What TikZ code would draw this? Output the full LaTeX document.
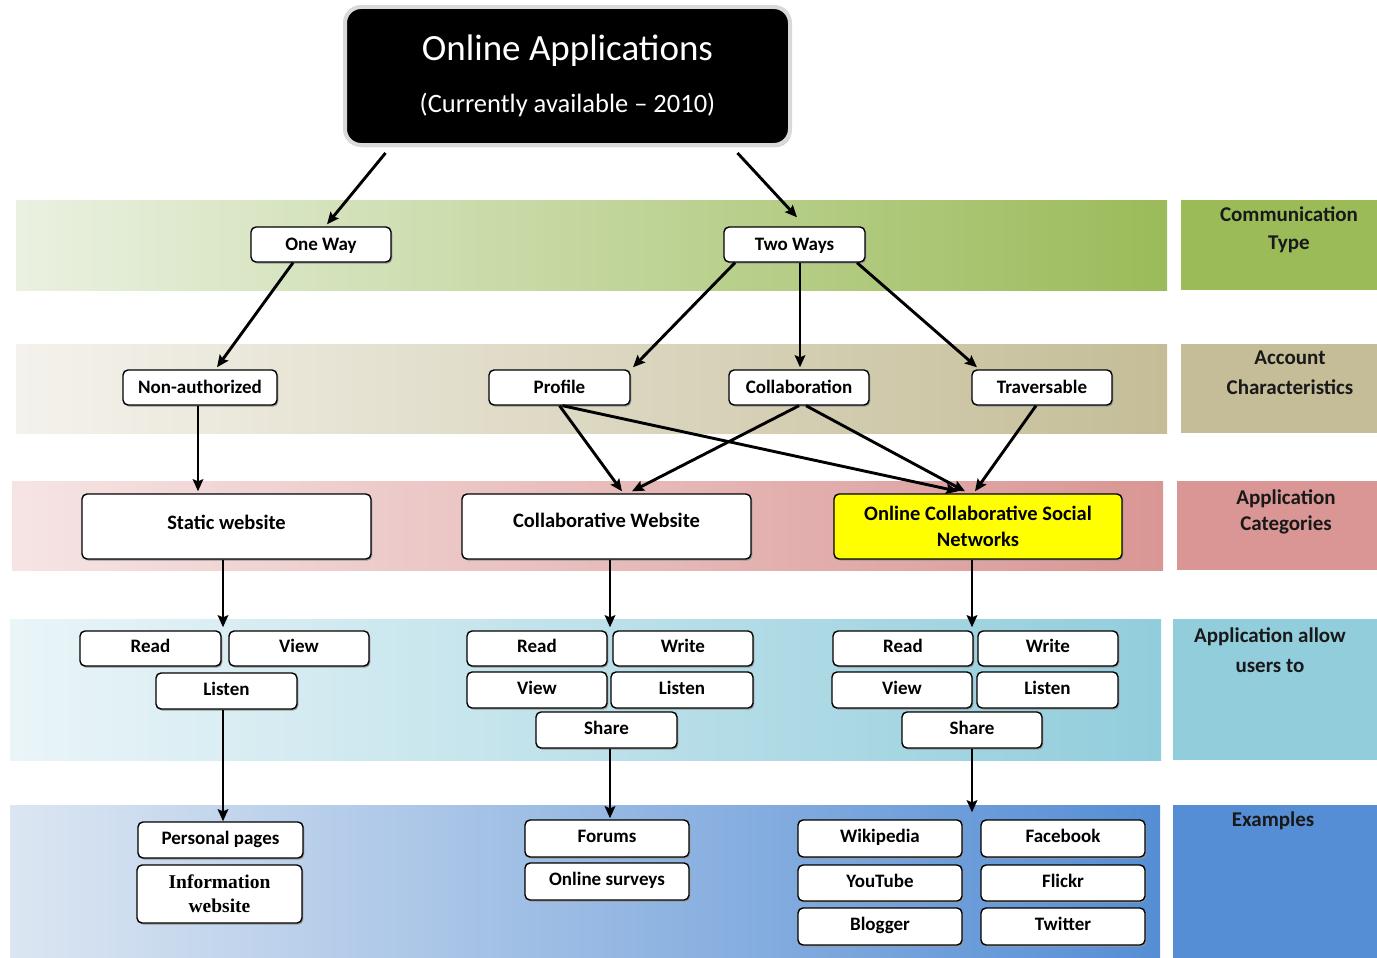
\documentclass[tikz,border=0pt]{standalone}
\usepackage{fontspec}
\setmainfont{Carlito}
\newfontfamily\tnr{Liberation Serif}
\usetikzlibrary{arrows.meta,shadows}
\definecolor{gL}{HTML}{EAF1E1}\definecolor{gR}{HTML}{9BBB59}
\definecolor{tL}{HTML}{F4F2EC}\definecolor{tR}{HTML}{C4BD97}
\definecolor{pL}{HTML}{F6E4E4}\definecolor{pR}{HTML}{D99694}
\definecolor{aL}{HTML}{EAF5F8}\definecolor{aR}{HTML}{92CDDC}
\definecolor{bL}{HTML}{DCE6F2}\definecolor{bR}{HTML}{558ED5}
\definecolor{ocsnY}{HTML}{FFFF00}
\begin{document}
\begin{tikzpicture}[x=1pt,y=-1pt,
  box/.style={draw=black, line width=1.4pt, fill=white, rounded corners=5pt, inner sep=0pt,
    font=\fontsize{19}{26}\selectfont\bfseries, align=center,
    general shadow={shadow xshift=1.3pt, shadow yshift=-1.6pt, fill=black!40}},
  sbox/.style={box, minimum width=140pt, minimum height=35pt, text height=13.5pt, text depth=5.5pt},
  tbox/.style={sbox, text depth=2pt},
  ebox/.style={box, minimum width=164pt, minimum height=37pt, text height=13.5pt, text depth=5.5pt},
  cbox/.style={box, minimum width=289pt, minimum height=65pt, font=\fontsize{20.5}{26}\selectfont\bfseries, text height=15pt},
  conn/.style={line width=2.9pt, -{Stealth[length=12pt,width=10.5pt,inset=2pt]}},
  lbl/.style={font=\fontsize{21}{28}\selectfont\bfseries, align=center, anchor=north, inner sep=0pt, text=black!90},
  titlebox/.style={fill=black, draw=black!15, line width=4pt, rounded corners=16pt, text=white,
    minimum width=445pt, minimum height=138pt, align=center, font=\fontsize{26.5}{28}\selectfont,
    general shadow={shadow xshift=1.5pt, shadow yshift=-2pt, fill=black!25}}
]
\useasboundingbox (0,0) rectangle (1377,958);
\fill[white] (0,0) rectangle (1377,958);
% bands
\shade[left color=gL, right color=gR] (16,200) rectangle (1167,290);
\fill[gR] (1181,200) rectangle (1377,290);
\shade[left color=tL, right color=tR] (16,344) rectangle (1167,433);
\fill[tR] (1181,344) rectangle (1377,433);
\shade[left color=pL, right color=pR] (12,481) rectangle (1163,570);
\fill[pR] (1177,481) rectangle (1377,570);
\shade[left color=aL, right color=aR] (10,619) rectangle (1161,760);
\fill[aR] (1173,619) rectangle (1377,760);
\shade[left color=bL, right color=bR] (10,805) rectangle (1160,958);
\fill[bR] (1173,805) rectangle (1377,958);
% right labels
\node[lbl] (lcomm) at (1289,207) {Communication\\Type};
\node[lbl, font=\fontsize{21}{30}\selectfont\bfseries] (lacct) at (1290,351) {Account\\Characteristics};
\node[lbl, font=\fontsize{21}{26}\selectfont\bfseries] (lcat) at (1286,490) {Application\\Categories};
\node[lbl, font=\fontsize{21}{30}\selectfont\bfseries] (lallow) at (1270,628) {Application allow\\users to};
\node[lbl] (lex) at (1273,812) {Examples};
% title
\node[titlebox] (title) at (567.5,76) {{\fontsize{37}{37}\selectfont Online Applications}\\[24pt](Currently available – 2010)};
% level 1
\node[tbox] (oneway) at (321,244.5) {One Way};
\node[tbox, minimum width=141pt] (twoways) at (794.5,244.5) {Two Ways};
% level 2
\node[tbox, minimum width=154pt] (nonauth) at (200,387.5) {Non-authorized};
\node[tbox, minimum width=141pt] (profile) at (559.5,387.5) {Profile};
\node[tbox] (collab) at (799,387.5) {Collaboration};
\node[tbox] (trav) at (1042,387.5) {Traversable};
% level 3
\node[cbox, text depth=9pt] (static) at (226.5,526.5) {Static website};
\node[cbox, text depth=13pt] (cweb) at (606.5,526.5) {Collaborative Website};
\node[box, minimum width=288pt, minimum height=65pt, fill=ocsnY, font=\fontsize{20.5}{26}\selectfont\bfseries] (ocsn) at (978,526.5) {Online Collaborative Social\\Networks};
% level 4
\node[sbox, minimum width=141pt] (sread) at (150.5,648.5) {Read};
\node[sbox] (sview) at (299,648.5) {View};
\node[sbox, minimum width=141pt, minimum height=36pt] (slisten) at (226.5,691) {Listen};
\node[sbox] (cread) at (537,648.5) {Read};
\node[sbox] (cwrite) at (683,648.5) {Write};
\node[sbox, minimum height=36pt] (cview) at (537,690) {View};
\node[sbox, minimum width=142pt, minimum height=36pt] (clisten) at (682,690) {Listen};
\node[sbox, minimum width=141pt, minimum height=36pt] (cshare) at (606.5,730) {Share};
\node[sbox] (oread) at (903,648.5) {Read};
\node[sbox] (owrite) at (1048,648.5) {Write};
\node[sbox, minimum height=36pt] (oview) at (902,690) {View};
\node[sbox, minimum width=141pt, minimum height=36pt] (olisten) at (1047.5,690) {Listen};
\node[sbox, minimum height=36pt] (oshare) at (972,730) {Share};
% level 5
\node[ebox, minimum width=165pt, minimum height=36pt] (pp) at (220.5,840) {Personal pages};
\node[box, minimum width=165pt, minimum height=58pt, font=\tnr\fontsize{19.5}{24}\selectfont\bfseries] (info) at (219.5,894) {Information\\website};
\node[ebox] (forums) at (607,838.5) {Forums};
\node[ebox] (surveys) at (607,881.5) {Online surveys};
\node[ebox] (wiki) at (880,838.5) {Wikipedia};
\node[ebox] (fb) at (1063,838.5) {Facebook};
\node[ebox, minimum height=36pt] (yt) at (880,883) {YouTube};
\node[ebox, minimum height=36pt] (flickr) at (1063,883) {Flickr};
\node[ebox] (blogger) at (880,926.5) {Blogger};
\node[ebox] (twitter) at (1063,926.5) {Twitter};
% connectors
\draw[conn] ([xshift=-182pt,yshift=-6pt]title.south) -- ([xshift=6pt,yshift=2pt]oneway.north);
\draw[conn] ([xshift=170pt,yshift=-6pt]title.south) -- ([xshift=2.5pt,yshift=9pt]twoways.north);
\draw[conn] ([xshift=-28pt]oneway.south) -- ([xshift=17pt,yshift=2pt]nonauth.north);
\draw[conn] ([xshift=-59.5pt]twoways.south) -- ([xshift=73.5pt,yshift=2pt]profile.north);
\draw[conn] ([xshift=5.5pt]twoways.south) -- ([xshift=1pt,yshift=2pt]collab.north);
\draw[conn] ([xshift=62.5pt]twoways.south) -- ([xshift=-65pt,yshift=2pt]trav.north);
\draw[conn] ([xshift=-2pt]nonauth.south) -- ([xshift=-28.5pt,yshift=2pt]static.north);
\draw[conn] (profile.south) -- ([xshift=15.5pt,yshift=2pt]cweb.north);
\draw[conn] (collab.south) -- ([xshift=25.5pt,yshift=2pt]cweb.north);
\draw[conn] ([xshift=3pt]profile.south) -- ([xshift=-20pt,yshift=2pt]ocsn.north);
\draw[conn] ([xshift=7pt]collab.south) -- ([xshift=-13pt,yshift=2pt]ocsn.north);
\draw[conn] ([xshift=-6pt]trav.south) -- ([xshift=-3pt,yshift=2pt]ocsn.north);
\draw[conn] ([xshift=-3.5pt]static.south) -- ([xshift=72.5pt,yshift=3pt]sread.north);
\draw[conn] ([xshift=3.5pt]cweb.south) -- ([xshift=73pt,yshift=3pt]cread.north);
\draw[conn] ([xshift=-6pt]ocsn.south) -- ([xshift=69pt,yshift=3pt]oread.north);
\draw[conn] ([xshift=-3.5pt]slisten.south) -- ([xshift=2.5pt]pp.north);
\draw[conn] ([xshift=3.5pt]cshare.south) -- ([xshift=3pt,yshift=1pt]forums.north);
\draw[conn] (oshare.south) -- ([xshift=92pt,yshift=7pt]wiki.north);
\end{tikzpicture}
\end{document}
